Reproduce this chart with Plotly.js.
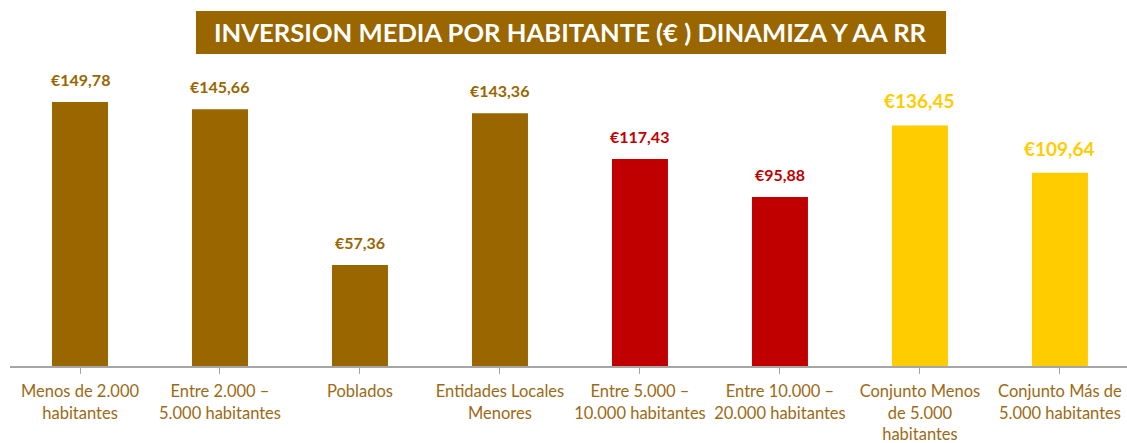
<!DOCTYPE html>
<html><head><meta charset="utf-8">
<script src="https://cdn.plot.ly/plotly-3.0.1.min.js"></script>
<style>body{margin:0;background:#fff}#c{width:1127px;height:443px}</style>
</head><body><div id="c"></div>
<script>
const categories = ["Menos de 2.000<br>habitantes","Entre 2.000 –<br>5.000 habitantes","Poblados","Entidades Locales<br>Menores","Entre 5.000 –<br>10.000 habitantes","Entre 10.000 –<br>20.000 habitantes","Conjunto Menos<br>de 5.000<br>habitantes","Conjunto Más de<br>5.000 habitantes"];
const values = [149.78,145.66,57.36,143.36,117.43,95.88,136.45,109.64];
const barColors = ["#996600","#996600","#996600","#996600","#C00000","#C00000","#FFCC00","#FFCC00"];
const labelSizes = [16,16,16,16,16,16,19,19];
const titleText = "INVERSION MEDIA POR HABITANTE (€ ) DINAMIZA Y AA RR";

const fmt = v => "€" + v.toFixed(2).replace(".", ",");
const idx = categories.map((_, i) => i);
const ann = idx.map(i => ({
  x: i, y: values[i], xref: "x", yref: "y", text: "<b>" + fmt(values[i]) + "</b>",
  showarrow: false, yanchor: "bottom", yshift: 11,
  font: {family: "Lato, 'Open Sans', sans-serif", size: labelSizes[i], color: barColors[i]}
}));
ann.push({x: 0.502, y: 1.09, xref: "paper", yref: "paper", text: "<b>" + titleText + "</b>",
  showarrow: false, xanchor: "center", yanchor: "middle",
  font: {family: "Lato, 'Open Sans', sans-serif", size: 25.6, color: "#ffffff"}});

Plotly.newPlot("c", [{
  type: "bar", x: idx, y: values, marker: {color: barColors}, hoverinfo: "none"
}], {
  width: 1127, height: 443,
  margin: {l: 10, r: 0, t: 60, b: 77},
  paper_bgcolor: "#fff", plot_bgcolor: "#fff",
  bargap: 0.6, showlegend: false,
  xaxis: {
    range: [-0.5, 7.479], tickmode: "array", tickvals: idx, ticktext: categories,
    tickson: "boundaries", ticks: "outside", ticklen: 6, tickcolor: "#a6a6a6",
    ticklabelstandoff: 4,
    showline: true, linecolor: "#a6a6a6", linewidth: 1.5, showgrid: false, zeroline: false,
    tickfont: {family: "Lato, 'Open Sans', sans-serif", size: 16.5, color: "#9C6A14"}
  },
  yaxis: {range: [0, 173.6], visible: false, showgrid: false, zeroline: false},
  shapes: [{type: "rect", xref: "paper", yref: "paper", x0: 0.1665, x1: 0.838, y0: 1.0196, y1: 1.160,
    fillcolor: "#996600", line: {width: 0}, layer: "below"}],
  annotations: ann
}, {staticPlot: true});
</script></body></html>
